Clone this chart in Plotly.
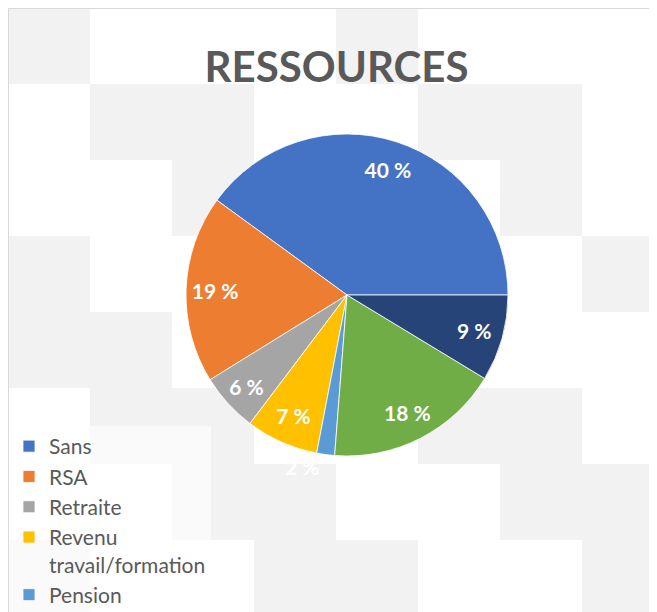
import plotly.graph_objects as go

# ---- data ----
# the last two categories are cut off from the legend in the source chart (names unknown)
categories = ["Sans", "RSA", "Retraite", "Revenu<br>travail/formation", "Pension", " ", "  "]
shares = [40.1, 18.9, 5.9, 7.3, 1.8, 17.6, 8.7]
colors = ["#4472C4", "#ED7D31", "#A5A5A5", "#FFC000", "#5B9BD5", "#70AD47", "#264478"]
label_pos = ["inside", "inside", "inside", "inside", "outside", "inside", "inside"]
title_text = "RESSOURCES"

total = sum(shares)
pct_text = [f"{round(v / total * 100)} %" for v in shares]

# first slice should start at 3 o'clock and run counter-clockwise
# (plotly's counterclockwise mode makes the first slice END at `rotation`)
rotation = 90 - 360 * shares[0] / total

# ---- geometry helpers (figure pixels -> paper) ----
W, H = 657, 612
def px(x):
    return x / W
def py(y):
    return 1 - y / H

cx, cy, R = 339, 287, 161
dom_x = [px(cx - R), px(cx + R)]
dom_y = [py(cy + R), py(cy - R)]

# ---- background pattern (decorative checkerboard) ----
pattern = [
    [1, 0, 0, 0, 1, 0, 0, 0],
    [0, 1, 1, 0, 0, 1, 1, 0],
    [0, 0, 1, 0, 0, 0, 1, 0],
    [1, 0, 0, 0, 0, 0, 0, 1],
    [1, 1, 0, 0, 0, 0, 0, 0],
    [0, 1, 1, 0, 0, 1, 1, 0],
    [0, 0, 1, 1, 0, 0, 1, 1],
    [1, 0, 0, 1, 1, 0, 0, 1],
]
cw, ch = 82, 76
shapes = []
for r, row in enumerate(pattern):
    for c, v in enumerate(row):
        if v:
            shapes.append(dict(type="rect", xref="paper", yref="paper",
                               x0=px(c * cw), x1=px((c + 1) * cw),
                               y0=py((r + 1) * ch), y1=py(r * ch),
                               fillcolor="#F2F2F2", line=dict(width=0), layer="below"))
shapes.append(dict(type="rect", xref="paper", yref="paper",
                   x0=px(0.5), x1=px(W + 5), y0=py(H + 5), y1=py(0.5),
                   fillcolor="rgba(0,0,0,0)", line=dict(color="#D9D9D9", width=1),
                   layer="above"))

fig = go.Figure()
fig.add_trace(go.Pie(
    labels=categories, values=shares, sort=False, direction="counterclockwise",
    rotation=rotation, domain=dict(x=dom_x, y=dom_y),
    marker=dict(colors=colors, line=dict(color="white", width=0.8)),
    textinfo="none", hoverinfo="label+percent", showlegend=True,
))
# transparent ring carrying the data labels (places them near the rim, as in the source)
fig.add_trace(go.Pie(
    labels=categories, values=shares, sort=False, direction="counterclockwise",
    rotation=rotation, domain=dict(x=dom_x, y=dom_y), hole=0.64,
    marker=dict(colors=["rgba(0,0,0,0)"] * len(shares), line=dict(width=0)),
    text=pct_text, texttemplate="%{text}", textposition=label_pos,
    insidetextorientation="horizontal",
    textfont=dict(family="Lato", size=21, color="white", weight="bold"),
    hoverinfo="skip", showlegend=False,
))

fig.update_layout(
    width=W, height=H,
    margin=dict(l=0, r=0, t=0, b=0, autoexpand=False),
    paper_bgcolor="white", plot_bgcolor="white",
    title=dict(text=title_text, x=0.5, xanchor="center", xref="paper",
               y=py(59.5), yref="container", yanchor="middle",
               font=dict(family="Lato", size=42, color="#595959", weight="bold")),
    legend=dict(x=px(1), xanchor="left", y=py(418), yanchor="top",
                font=dict(family="Lato", size=21, color="#595959"),
                bgcolor="rgba(255,255,255,0.6)", valign="top",
                traceorder="normal"),
    shapes=shapes,
)

fig.write_html("out.html")
